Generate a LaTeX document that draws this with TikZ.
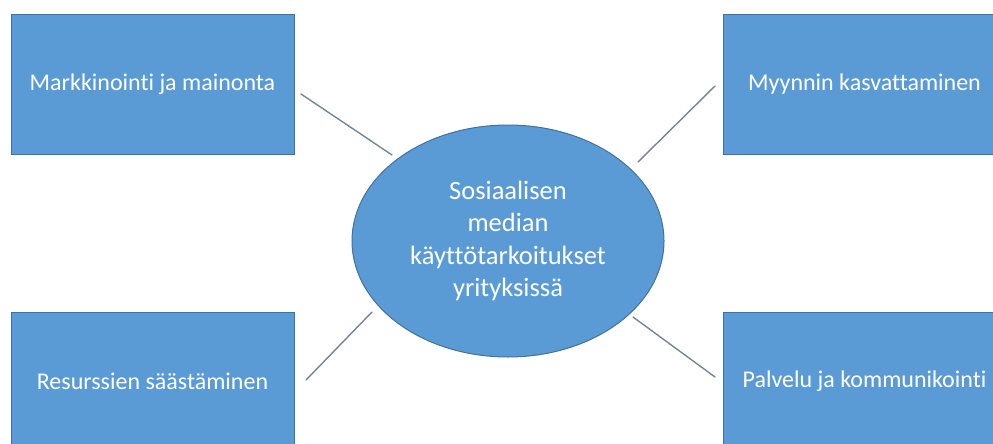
\documentclass[tikz,border=0pt]{standalone}
\usepackage{fontspec}
\setmainfont{Carlito}[Ligatures=NoCommon]
\usetikzlibrary{shapes.geometric}
\definecolor{boxblue}{HTML}{5B9BD5}
\definecolor{boxedge}{HTML}{41719C}
\definecolor{linkgray}{HTML}{75849A}
\begin{document}
\begin{tikzpicture}[x=1pt,y=-1pt,line width=1pt,line cap=round,
  topic/.style={rectangle,draw=boxedge,fill=boxblue,text=white,
    minimum width=283pt,minimum height=139pt,inner sep=0pt,
    font=\fontsize{24}{29}\selectfont},
  hub/.style={ellipse,draw=boxedge,fill=boxblue,text=white,align=center,
    minimum width=312pt,minimum height=232pt,inner sep=0pt,
    font=\fontsize{26.5}{32.5}\selectfont},
  link/.style={draw=linkgray,line width=1.4pt}]
  \useasboundingbox (0,0) rectangle (993,444);
  \clip (0,0) rectangle (993,444);
  % boxes
  \node[topic] (mark)  at (152.5,84.5)  {Markkinointi ja mainonta};
  \node[topic] (sales) at (864.5,84.5)  {Myynnin kasvattaminen};
  \node[topic] (save)  at (152.5,381.5) {Resurssien säästäminen};
  \node[topic] (serv)  at (864.5,381.5) {Palvelu ja kommunikointi};
  \node[hub] (core) at (508,241)
    {Sosiaalisen\\median\\käyttötarkoitukset\\yrityksissä};
  % connector ends
  \coordinate (mark-a)  at (301,94);  \coordinate (mark-b)  at (392,155);
  \coordinate (sales-a) at (715,86);  \coordinate (sales-b) at (638,162);
  \coordinate (save-a)  at (306,380); \coordinate (save-b)  at (372,312);
  \coordinate (serv-a)  at (715,377); \coordinate (serv-b)  at (633,317);
  \draw[link] (mark-a) -- (mark-b);
  \draw[link] (sales-a) -- (sales-b);
  \draw[link] (save-a) -- (save-b);
  \draw[link] (serv-a) -- (serv-b);
\end{tikzpicture}
\end{document}
